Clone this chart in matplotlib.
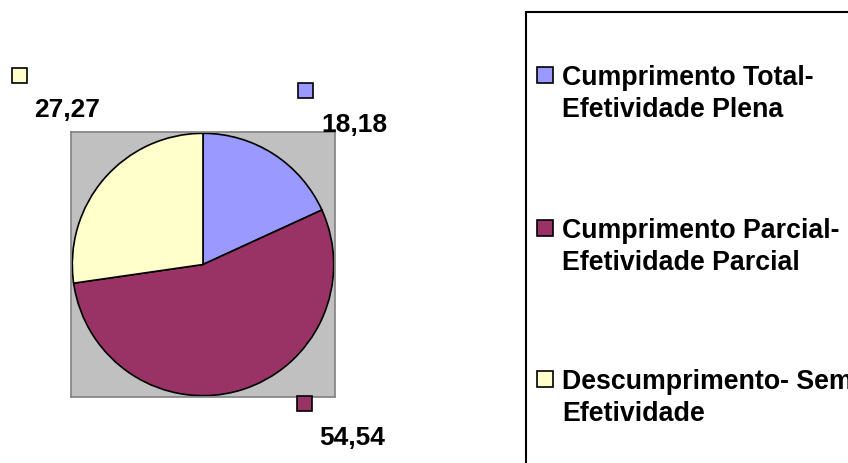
import matplotlib.pyplot as plt
from matplotlib.patches import Rectangle

# data
categories = ["Cumprimento Total-\nEfetividade Plena",
              "Cumprimento Parcial-\nEfetividade Parcial",
              "Descumprimento- Sem\nEfetividade"]
values = [18.18, 54.54, 27.27]
value_labels = ["18,18", "54,54", "27,27"]
colors = ["#9999FF", "#993366", "#FFFFCC"]

W, H = 848, 463
plt.rcParams['font.family'] = ['Liberation Sans', 'DejaVu Sans']

fig = plt.figure(figsize=(W / 100, H / 100), dpi=100)


def fx(px):
    return px / W


def fy(py):
    return 1 - py / H


# plot area (grey square) with the pie inside
ax = fig.add_axes([fx(71), fy(397), 264 / W, 265 / H])
ax.pie(values, colors=colors, startangle=90, counterclock=False, radius=1,
       wedgeprops=dict(edgecolor="black", linewidth=1.2))
ax.set_xlim(-1.01, 1.01)
ax.set_ylim(-1.01, 1.01)
ax.set_aspect("auto")
ax.set_frame_on(True)
ax.set_facecolor("#C0C0C0")
for s in ax.spines.values():
    s.set_color("#808080")
    s.set_linewidth(1.2)
ax.set_xticks([])
ax.set_yticks([])

# data labels with their little colour keys (pixel positions)
label_pos = [(354, 125), (352, 438), (67, 110)]
key_pos = [(305, 90), (304, 403), (19, 75)]
ks = 15
for i in range(len(values)):
    lx, ly = label_pos[i]
    fig.text(fx(lx), fy(ly), value_labels[i], ha="center", va="center",
             fontsize=19, fontweight="bold")
    kx, ky = key_pos[i]
    fig.patches.append(Rectangle((fx(kx - ks / 2), fy(ky + ks / 2)), ks / W, ks / H,
                                 transform=fig.transFigure, facecolor=colors[i],
                                 edgecolor="black", linewidth=1.2))

# legend box, drawn by hand (runs off the right and bottom edges)
fig.patches.append(Rectangle((fx(526), fy(480)), (900 - 526) / W, (480 - 12) / H,
                             transform=fig.transFigure, facecolor="white",
                             edgecolor="black", linewidth=1.5, zorder=0))
leg_top = [65, 218, 369]
for i, cat in enumerate(categories):
    y = leg_top[i]
    fig.patches.append(Rectangle((fx(537), fy(y + 18)), 16 / W, 16 / H,
                                 transform=fig.transFigure, facecolor=colors[i],
                                 edgecolor="black", linewidth=1.2))
    fig.text(fx(562), fy(y), cat, ha="left", va="top", fontsize=19.3,
             fontweight="bold", linespacing=1.3)

fig.savefig("out.png", dpi=100)
